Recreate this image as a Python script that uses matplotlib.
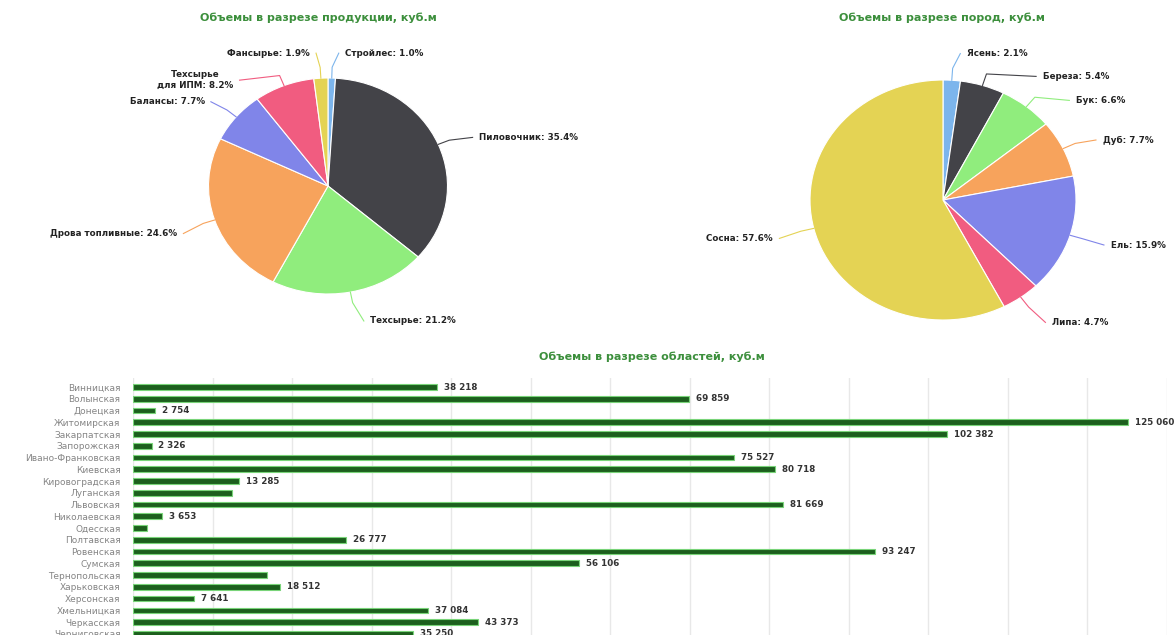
import numpy as np
import matplotlib
matplotlib.use('Agg')
import matplotlib.pyplot as plt

# --- data ---
prod_names = ['Стройлес', 'Пиловочник', 'Техсырье', 'Дрова топливные',
              'Балансы', 'Техсырье\nдля ИПМ', 'Фансырье']
prod_share = [1.0, 35.4, 21.2, 24.6, 7.7, 8.2, 1.9]

wood_names = ['Ясень', 'Береза', 'Бук', 'Дуб', 'Ель', 'Липа', 'Сосна']
wood_share = [2.1, 5.4, 6.6, 7.7, 15.9, 4.7, 57.6]

regions = ['Винницкая', 'Волынская', 'Донецкая', 'Житомирская', 'Закарпатская',
           'Запорожская', 'Ивано-Франковская', 'Киевская', 'Кировоградская',
           'Луганская', 'Львовская', 'Николаевская', 'Одесская', 'Полтавская',
           'Ровенская', 'Сумская', 'Тернопольская', 'Харьковская', 'Херсонская',
           'Хмельницкая', 'Черкасская', 'Черниговская']
volumes = [38218, 69859, 2754, 125060, 102382, 2326, 75527, 80718, 13285,
           12450, 81669, 3653, 1760, 26777, 93247, 56106, 16850, 18512, 7641,
           37084, 43373, 35250]
labelled = [True, True, True, True, True, True, True, True, True,
            False, True, True, False, True, True, True, False, True, True,
            True, True, True]

# highcharts default palette
colors = ['#7cb5ec', '#434348', '#90ed7d', '#f7a35c', '#8085e9', '#f15c80', '#e4d354']

# label spots in pie radius units
prod_lab = [(0.14, 1.23), (1.26, 0.45), (0.35, -1.25), (-1.26, -0.44),
            (-1.03, 0.78), (-0.79, 0.98), (-0.15, 1.23)]
wood_lab = [(0.18, 1.22), (0.75, 1.03), (1.0, 0.83), (1.2, 0.5),
            (1.26, -0.375), (0.82, -1.02), (-1.28, -0.32)]

W, H = 1174, 635
GREEN = '#3c8f3c'

fig = plt.figure(figsize=(W / 100, H / 100), dpi=100)


def pie_block(cx, cy, rx, ry, names, shares, spots, title, tx):
    hx, hy = 2.6, 1.55
    ax = fig.add_axes([(cx - hx * rx) / W, 1 - (cy + hy * ry) / H,
                       2 * hx * rx / W, 2 * hy * ry / H])
    ax.pie(shares, colors=colors, startangle=90, counterclock=False,
           wedgeprops=dict(edgecolor='white', linewidth=0.8))
    ax.set_aspect('auto')
    ax.set_xlim(-hx, hx)
    ax.set_ylim(-hy, hy)
    ax.axis('off')
    cum = np.cumsum([0] + shares[:-1])
    for name, v, c0, (lx, ly), col in zip(names, shares, cum, spots, colors):
        ang = np.deg2rad(90 - (c0 + v / 2) * 3.6)
        s = 1 if lx > 0 else -1
        xs = [np.cos(ang), 1.1 * np.cos(ang), lx - s * 0.05]
        ys = [np.sin(ang), 1.1 * np.sin(ang), ly]
        ax.plot(xs, ys, color=col, lw=0.8, clip_on=False)
        ax.text(lx, ly, f'{name}: {v:.1f}%', ha='left' if s > 0 else 'right',
                va='center', multialignment='center', fontsize=6.3,
                fontweight='bold', color='#222222', clip_on=False)
    fig.text(tx / W, 1 - 18 / H, title, ha='center', va='center',
             fontsize=8, fontweight='bold', color=GREEN)


pie_block(328, 186, 119.5, 108, prod_names, prod_share, prod_lab,
          'Объемы в разрезе продукции, куб.м', 318)
pie_block(943, 200, 133, 120, wood_names, wood_share, wood_lab,
          'Объемы в разрезе пород, куб.м', 942)

# --- regions bar chart ---
left, right, top = 133, 1167, 378
ax = fig.add_axes([left / W, 0, (right - left) / W, (H - top) / H])
y = np.arange(len(regions))
ax.barh(y, volumes, height=0.48, color='#1c5f1d', edgecolor='#79d479',
        linewidth=0.8, zorder=3)
ax.set_xlim(0, 130000)
ax.set_ylim(21.1, -0.77)
ax.set_yticks(y, regions)
ax.set_xticks(np.arange(0, 130001, 10000))
ax.tick_params(axis='x', length=0, labelbottom=False)
ax.tick_params(axis='y', length=0, pad=9, labelsize=6.5, labelcolor='#858585')
ax.grid(axis='x', color='#e8e8e8', lw=1)
ax.set_axisbelow(True)
for sp in ax.spines.values():
    sp.set_visible(False)

for i, (v, show) in enumerate(zip(volumes, labelled)):
    if show:
        ax.annotate(f'{v:,}'.replace(',', ' '), (v, i), xytext=(5, 0),
                    textcoords='offset points', va='center', fontsize=6.3,
                    fontweight='bold', color='#333333', annotation_clip=False)

fig.text(652 / W, 1 - 357 / H, 'Объемы в разрезе областей, куб.м',
         ha='center', va='center', fontsize=8, fontweight='bold', color=GREEN)

fig.savefig('out.png', dpi=100)
